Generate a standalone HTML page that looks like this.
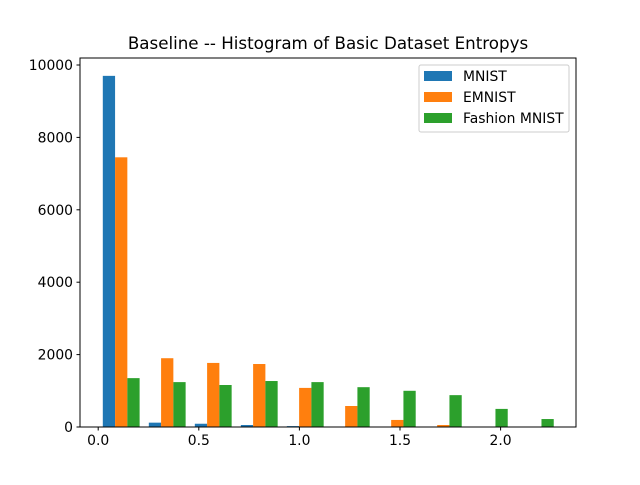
<!DOCTYPE html>
<html><head><meta charset="utf-8"><style>
body{margin:0;background:#fff}
svg text{font-family:"DejaVu Sans","Liberation Sans",sans-serif;fill:#000}
</style></head><body>
<svg id="chart" width="640" height="480" viewBox="0 0 640 480" xmlns="http://www.w3.org/2000/svg">
<rect width="640" height="480" fill="#fff"/>
<text x="328" y="49" font-size="16.7" text-anchor="middle">Baseline -- Histogram of Basic Dataset Entropys</text>
<g id="bars"></g>
<g id="axes"></g>
<g>
<rect x="419" y="65" width="150" height="67" rx="2" fill="#fff" fill-opacity="0.8" stroke="#ccc"/>
<rect x="424" y="71" width="28" height="10" fill="#1f77b4"/>
<text x="463" y="81" font-size="13.9">MNIST</text>
<rect x="424" y="92" width="28" height="10" fill="#ff7f0e"/>
<text x="463" y="102" font-size="13.9">EMNIST</text>
<rect x="424" y="113" width="28" height="10" fill="#2ca02c"/>
<text x="463" y="123" font-size="13.9">Fashion MNIST</text>
</g>
</svg>
<script>
const binStart = 0;
const binWidth = 0.2287;
const mnist = [9700, 120, 90, 55, 25, 0, 0, 0, 0, 0];
const emnist = [7450, 1900, 1770, 1740, 1080, 580, 195, 55, 0, 0];
const fashion = [1350, 1240, 1160, 1270, 1240, 1100, 1000, 880, 500, 220];
const xTicks = [0.0, 0.5, 1.0, 1.5, 2.0];
const xTickLabels = ["0.0", "0.5", "1.0", "1.5", "2.0"];
const yTicks = [0, 2000, 4000, 6000, 8000, 10000];
const yTickLabels = ["0", "2000", "4000", "6000", "8000", "10000"];

const L=80,R=576,T=58,B=427;
function xs(v){return 98.2+v*201.2;}
function ys(v){return B-v*0.0362;}
const NS="http://www.w3.org/2000/svg";
const bars=document.getElementById('bars');
const series=[[mnist,'#1f77b4','mnist'],[emnist,'#ff7f0e','emnist'],[fashion,'#2ca02c','fashion']];
const dw=0.8*binWidth/3;
series.forEach((s,si)=>{
  s[0].forEach((v,i)=>{
    if(v<=0)return;
    const x0=binStart+i*binWidth+0.1*binWidth+si*dw;
    const r=document.createElementNS(NS,'rect');
    
    
    r.setAttribute('x',xs(x0));
    r.setAttribute('width',xs(x0+dw)-xs(x0));
    r.setAttribute('y',ys(v));
    r.setAttribute('height',B-ys(v));
    r.setAttribute('fill',s[1]);
    bars.appendChild(r);
  });
});
const ax=document.getElementById('axes');
function add(tag,attrs,text){const e=document.createElementNS(NS,tag);for(const k in attrs)e.setAttribute(k,attrs[k]);if(text!==undefined)e.textContent=text;ax.appendChild(e);return e;}
const frame=add('rect',{x:L,y:T,width:R-L,height:B-T,fill:'none',stroke:'#000','stroke-width':1});


xTicks.forEach((t,i)=>{
  const x=xs(t);
  const tk=add('line',{x1:x,x2:x,y1:B,y2:B+3.5,stroke:'#000'});
  
  
  const lb=add('text',{x:x,y:B+18,'font-size':13.9,'text-anchor':'middle'},xTickLabels[i]);
  
  
});
yTicks.forEach((t,i)=>{
  const y=ys(t);
  const tk=add('line',{x1:L-3.5,x2:L,y1:y,y2:y,stroke:'#000'});
  
  
  const lb=add('text',{x:L-7,y:y+5,'font-size':13.9,'text-anchor':'end'},yTickLabels[i]);
  
  
});
</script>
</body></html>
